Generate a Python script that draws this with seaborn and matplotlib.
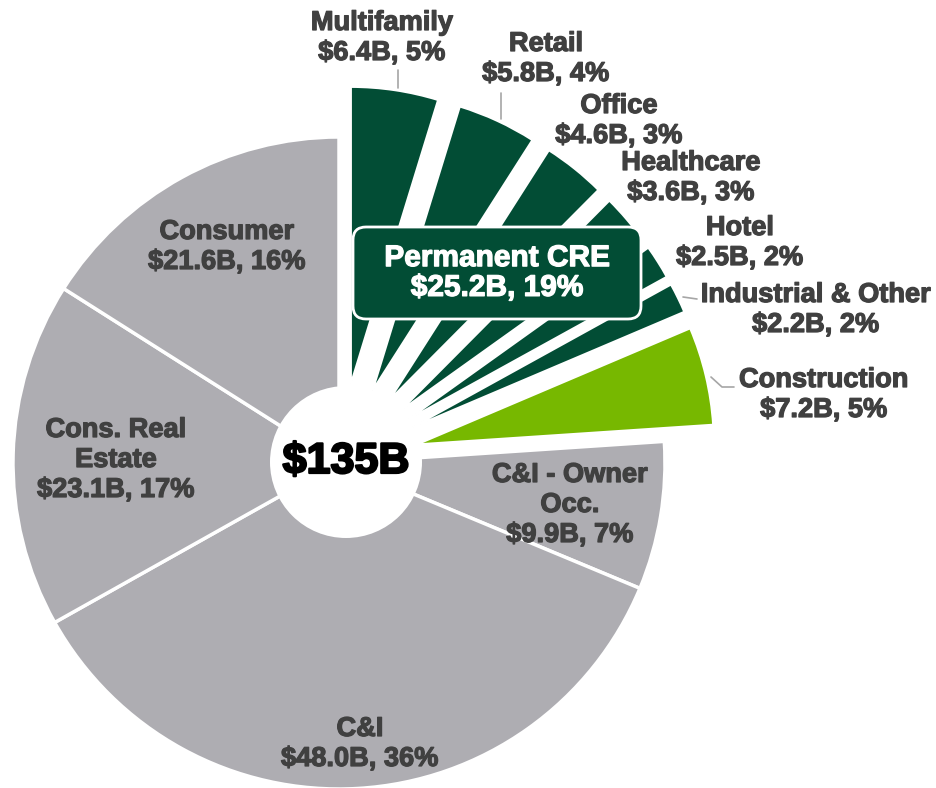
import matplotlib
matplotlib.use("Agg")
import matplotlib.pyplot as plt
import matplotlib.patheffects as pe
from matplotlib.patches import FancyBboxPatch, Circle
import seaborn as sns

# ---- data (loan balances, $B) ----
segments = ["Multifamily", "Retail", "Office", "Healthcare", "Hotel",
            "Industrial & Other", "Construction", "C&I - Owner Occ.",
            "C&I", "Cons. Real Estate", "Consumer"]
balances = [6.4, 5.8, 4.6, 3.6, 2.5, 2.2, 7.2, 9.9, 48.0, 23.1, 21.6]
shares = [5, 4, 3, 3, 2, 2, 5, 7, 36, 17, 16]
label_names = ["Multifamily", "Retail", "Office", "Healthcare", "Hotel",
               "Industrial & Other", "Construction", "C&I - Owner\nOcc.",
               "C&I", "Cons. Real\nEstate", "Consumer"]
groups = ["perm", "perm", "perm", "perm", "perm", "perm",
          "constr", "other", "other", "other", "other"]
total_label = "$135B"
perm_cre_label = "Permanent CRE\n$25.2B, 19%"

# ---- layout (image pixels, origin top-left) ----
W, H = 937, 788
CENTER = (339, 463)
R_OUTER = 326
R_CRE = 297
EXPLODE_PX = 80
HOLE = (346, 462, 76)
LABEL_POS = [(382, 38), (546, 59), (619, 121), (691, 178), (740, 243),
             (816, 310), (824, 395), (570, 505), (360, 744), (116, 460),
             (227, 247)]
LEADERS = [[(398, 70), (398, 88)],
           [(501, 93), (501, 119)],
           [(683, 297), (697, 299)],
           [(711, 377), (722, 387), (734, 387)]]

COLORS = {"perm": "#024D35", "constr": "#77B800", "other": "#AEADB2"}
TEXT = "#404040"

sns.set_theme(style="white")
plt.rcParams["font.family"] = ["Liberation Sans", "DejaVu Sans"]
plt.rcParams["text.parse_math"] = False


def yd(y):
    return H - y


fig = plt.figure(figsize=(W / 100, H / 100), dpi=100)
ax = fig.add_axes([0, 0, 1, 1])
center = (CENTER[0], yd(CENTER[1]))

# grey part of the pie (CRE slices left empty)
wedges, _ = ax.pie(balances, radius=R_OUTER, center=center, startangle=90,
                   counterclock=False,
                   wedgeprops=dict(edgecolor="white", linewidth=2.5))
for w, g in zip(wedges, groups):
    if g == "other":
        w.set_facecolor(COLORS["other"])
    else:
        w.set_visible(False)

# CRE slices, smaller radius and pulled out (explode is in data units)
explode = [EXPLODE_PX if g != "other" else 0 for g in groups]
wedges, _ = ax.pie(balances, radius=R_CRE, center=center, startangle=90,
                   counterclock=False, explode=explode,
                   wedgeprops=dict(edgecolor="white", linewidth=1.5))
for w, g in zip(wedges, groups):
    if g == "other":
        w.set_visible(False)
    else:
        w.set_facecolor(COLORS[g])

# centre hole with total
ax.add_patch(Circle((HOLE[0], yd(HOLE[1])), HOLE[2], facecolor="white",
                    edgecolor="none", zorder=3))
ax.text(HOLE[0], yd(HOLE[1]), total_label, ha="center", va="center",
        fontsize=31, fontweight="bold", color="black", zorder=4,
        path_effects=[pe.withStroke(linewidth=1.6, foreground="black")])

# slice labels
for name, val, pct, (x, y) in zip(label_names, balances, shares, LABEL_POS):
    ax.text(x, yd(y), f"{name}\n${val:.1f}B, {pct}%", ha="center",
            va="center", multialignment="center", fontsize=19.6,
            fontweight="bold", color=TEXT, linespacing=1.2, zorder=5,
            path_effects=[pe.withStroke(linewidth=0.9, foreground=TEXT)])

for pts in LEADERS:
    xs = [p[0] for p in pts]
    ys = [yd(p[1]) for p in pts]
    ax.plot(xs, ys, color="#A6A6A6", lw=1.2, zorder=4)

# Permanent CRE callout
box = FancyBboxPatch((353, yd(319)), 288, 92,
                     boxstyle="round,pad=0,rounding_size=13",
                     facecolor=COLORS["perm"], edgecolor="white", lw=2,
                     zorder=5)
ax.add_patch(box)
ax.text(497, yd(273), perm_cre_label, ha="center", va="center",
        multialignment="center", fontsize=21.5, fontweight="bold",
        color="white", linespacing=1.08, zorder=6,
        path_effects=[pe.withStroke(linewidth=0.9, foreground="white")])

ax.set_xlim(0, W)
ax.set_ylim(0, H)
ax.set_aspect("equal")
ax.axis("off")

fig.savefig("out.png", dpi=100)
